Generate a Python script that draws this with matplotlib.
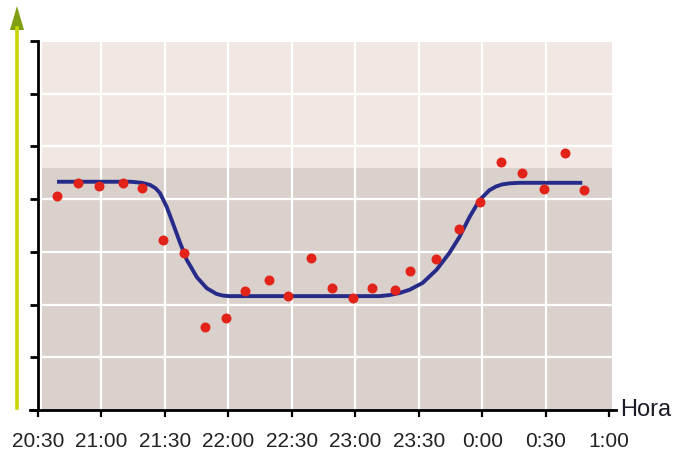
import numpy as np
import matplotlib
matplotlib.use('Agg')
import matplotlib.pyplot as plt
from matplotlib.patches import Rectangle, Polygon
from matplotlib.lines import Line2D

plt.rcParams['font.family'] = ['Liberation Sans', 'DejaVu Sans']

# measured points: minutes after 20:30, value (no y scale in the original)
minutes = [9, 19, 29, 40, 49, 59, 69, 79, 89, 98, 109, 118, 129,
           139, 149, 158, 169, 176, 188, 199, 209, 219, 229, 239, 249, 258]
values = [4.06, 4.31, 4.25, 4.31, 4.21, 3.23, 2.98, 1.57, 1.75, 2.26, 2.47, 2.16, 2.88,
          2.31, 2.12, 2.31, 2.28, 2.64, 2.86, 3.43, 3.95, 4.70, 4.50, 4.19, 4.88, 4.17]

# fitted curve
curve_min = [9, 44, 49, 53, 55.5, 57.6, 60.9, 63.7, 67.0, 70.3, 75.1, 79.8, 84.5, 87.5, 90.5, 124,
             161.5, 166.2, 171, 175.6, 181.8, 188.4, 194.5, 199.2, 204.0, 208.7, 213.4,
             216.5, 219.5, 223, 227.6, 257.3]
curve_val = [4.33, 4.33, 4.31, 4.27, 4.21, 4.12, 3.85, 3.55, 3.19, 2.85, 2.52, 2.31, 2.20, 2.17, 2.16, 2.16,
             2.16, 2.18, 2.22, 2.28, 2.41, 2.66, 2.98, 3.28, 3.66, 3.98, 4.17,
             4.24, 4.28, 4.30, 4.31, 4.31]

tick_min = [0, 30, 60, 90, 120, 150, 180, 210, 240, 270]
tick_labels = ['20:30', '21:00', '21:30', '22:00', '22:30',
               '23:00', '23:30', '0:00', '0:30', '1:00']
y_ticks = [0, 1, 2, 3, 4, 5, 6, 7]

W, H = 676, 462
fig = plt.figure(figsize=(W / 100, H / 100), dpi=100)
ax = fig.add_axes([29.5 / W, (H - 410) / H, 586 / W, 369 / H])
ax.set_xlim(-4, 273)
ax.set_ylim(0, 7)
ax.patch.set_alpha(0)

# paper-like background, lighter band on top
ax.add_patch(Rectangle((1.8, 0), 269.5, 4.6, facecolor='#dad1cc', edgecolor='none', zorder=0))
ax.add_patch(Rectangle((1.8, 4.6), 269.5, 2.38, facecolor='#f2e7e2', edgecolor='none', zorder=0))
ax.hlines(y_ticks[1:-1], 1.8, 271.3, color='white', lw=1.6, zorder=1)
ax.vlines(tick_min[1:-1], 0, 6.98, color='white', lw=1.6, zorder=1)

ax.plot(curve_min, curve_val, color='#262a88', lw=2.8, solid_capstyle='butt',
        solid_joinstyle='round', zorder=3)
ax.plot(minutes, values, 'o', color='#e2231a', ms=7.2, mec='none', zorder=4)

for s in ['top', 'right']:
    ax.spines[s].set_visible(False)
ax.spines['left'].set_position(('data', 0))
ax.spines['left'].set_linewidth(2)
ax.spines['bottom'].set_linewidth(2)
ax.spines['left'].set_zorder(5)

ax.set_yticks(y_ticks)
ax.set_yticklabels([])
ax.tick_params(axis='y', direction='out', length=6, width=2)
ax.set_xticks(tick_min)
ax.set_xticklabels(tick_labels)
ax.tick_params(axis='x', direction='out', length=5, width=1.6, pad=11,
               labelsize=15, labelcolor='#222222')

ax.text(275, 0, 'Hora', fontsize=17, color='#1c1c28', ha='left', va='center')

# green arrow on the far left
fig.add_artist(Line2D([17 / W, 17 / W], [(H - 408) / H, (H - 28) / H],
                      color='#c9d600', lw=2.6))
fig.add_artist(Polygon([[10 / W, (H - 30) / H], [24 / W, (H - 30) / H], [17 / W, (H - 6) / H]],
                       closed=True, facecolor='#7f9f14', edgecolor='none'))

fig.savefig('out.png', dpi=100)
